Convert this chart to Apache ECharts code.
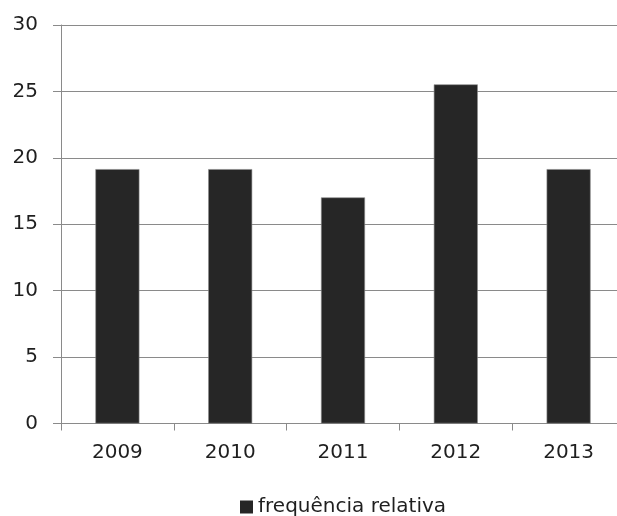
<!DOCTYPE html>
<html>
<head>
<meta charset="utf-8">
<script src="https://cdn.jsdelivr.net/npm/echarts@6/dist/echarts.min.js"></script>
<style>
  html, body { margin: 0; padding: 0; background: #fff; overflow: hidden; }
  /* the plot runs slightly past the right edge of the page */
  #chart { width: 630px; height: 516px; }
</style>
</head>
<body>
<div id="chart"></div>
<script>
// Relative frequency per year (%)
const years = ['2009', '2010', '2011', '2012', '2013'];
const frequenciaRelativa = [19.15, 19.15, 17.02, 25.53, 19.15];
const seriesName = 'frequência relativa';

const FONT = 'DejaVu Sans';
const gridColor = '#8a8a8a';
const textColor = '#1f1f1f';

const chart = echarts.init(document.getElementById('chart'), null, { renderer: 'canvas' });

chart.setOption({
  animation: false,
  backgroundColor: '#ffffff',
  grid: { left: 61, top: 25, width: 564, height: 398.5, containLabel: false },
  legend: {
    data: [seriesName],
    left: 240,
    top: 497,
    itemWidth: 13,
    itemHeight: 13,
    icon: 'rect',
    itemStyle: { borderWidth: 0 },
    textStyle: { fontFamily: FONT, fontSize: 20, color: textColor },
    padding: 0
  },
  xAxis: {
    type: 'category',
    data: years,
    axisLine: { lineStyle: { color: gridColor, width: 1 } },
    axisTick: { show: true, length: 7, lineStyle: { color: gridColor } },
    axisLabel: { fontFamily: FONT, fontSize: 20, color: textColor, margin: 19 }
  },
  yAxis: {
    type: 'value',
    min: 0,
    max: 30,
    interval: 5,
    axisLine: { show: true, lineStyle: { color: gridColor, width: 1 } },
    axisTick: { show: true, length: 8, lineStyle: { color: gridColor } },
    splitLine: { show: true, lineStyle: { color: gridColor, width: 1 } },
    axisLabel: { fontFamily: FONT, fontSize: 20, color: textColor, margin: 23 }
  },
  series: [{
    name: seriesName,
    type: 'bar',
    data: frequenciaRelativa,
    barWidth: 44,
    itemStyle: { color: '#262626', borderColor: '#8c8c8c', borderWidth: 0.6 }
  }]
});
</script>
</body>
</html>
